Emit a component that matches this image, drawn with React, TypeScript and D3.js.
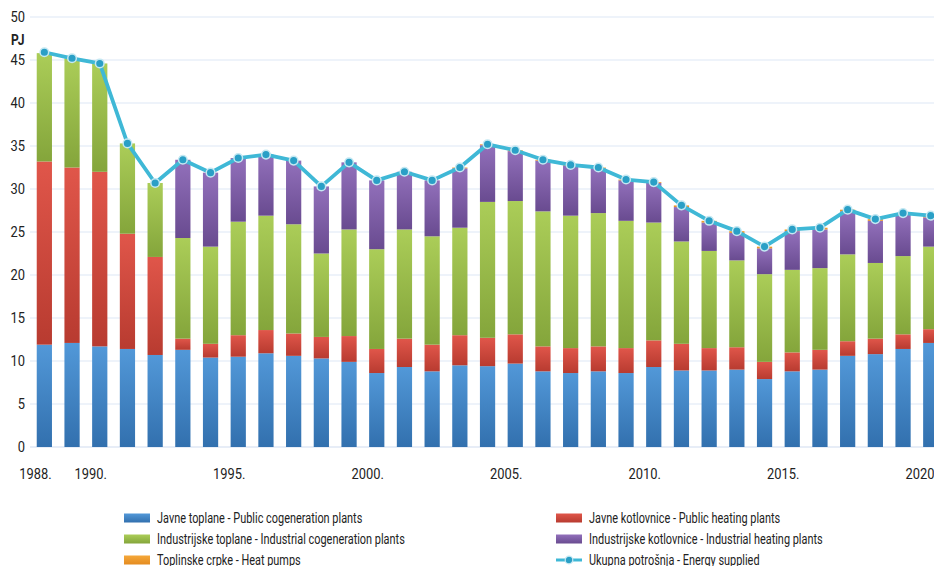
import React from 'react';
import * as d3 from 'd3';

const years = d3.range(1988, 2021);
const tickYears = [1988, 1990, 1995, 2000, 2005, 2010, 2015, 2020];

// PJ per series
const publicCogen = [11.9, 12.1, 11.7, 11.4, 10.7, 11.3, 10.4, 10.5, 10.9, 10.6, 10.3, 9.9, 8.6, 9.3, 8.8, 9.5, 9.4, 9.7, 8.8, 8.6, 8.8, 8.6, 9.3, 8.9, 8.9, 9.0, 7.9, 8.8, 9.0, 10.6, 10.8, 11.4, 12.1];
const publicHeating = [21.3, 20.4, 20.3, 13.4, 11.4, 1.3, 1.6, 2.5, 2.7, 2.6, 2.5, 3.0, 2.8, 3.3, 3.1, 3.5, 3.3, 3.4, 2.9, 2.9, 2.9, 2.9, 3.1, 3.1, 2.6, 2.6, 2.0, 2.2, 2.3, 1.7, 1.8, 1.7, 1.6];
const industrialCogen = [12.6, 12.7, 12.6, 10.5, 8.6, 11.7, 11.3, 13.2, 13.3, 12.7, 9.7, 12.4, 11.6, 12.7, 12.6, 12.5, 15.8, 15.5, 15.7, 15.4, 15.5, 14.8, 13.7, 11.9, 11.3, 10.1, 10.2, 9.6, 9.5, 10.1, 8.8, 9.1, 9.6];
const industrialHeating = [0, 0, 0, 0, 0, 9.1, 8.6, 7.4, 7.1, 7.4, 7.8, 7.8, 8.0, 6.7, 6.5, 6.9, 6.6, 5.8, 5.9, 5.8, 5.2, 4.7, 4.6, 4.0, 3.3, 3.2, 3.0, 4.5, 4.5, 5.0, 4.9, 4.8, 3.4];
const heatPumps = [0, 0, 0, 0, 0, 0, 0, 0, 0, 0, 0, 0, 0, 0, 0, 0.1, 0.1, 0.1, 0.1, 0.1, 0.1, 0.1, 0.1, 0.2, 0.2, 0.2, 0.2, 0.2, 0.2, 0.2, 0.2, 0.2, 0.2];
const energySupplied = [45.9, 45.2, 44.6, 35.3, 30.7, 33.4, 31.9, 33.6, 34.0, 33.3, 30.3, 33.1, 31.0, 32.0, 31.0, 32.5, 35.2, 34.5, 33.4, 32.8, 32.5, 31.1, 30.8, 28.1, 26.3, 25.1, 23.3, 25.3, 25.5, 27.6, 26.5, 27.2, 26.9];

const seriesKeys = ['pubCogen', 'pubHeat', 'indCogen', 'indHeat', 'pumps'];
const seriesValues: Record<string, number[]> = {
  pubCogen: publicCogen,
  pubHeat: publicHeating,
  indCogen: industrialCogen,
  indHeat: industrialHeating,
  pumps: heatPumps,
};
const colors: Record<string, [string, string]> = {
  pubCogen: ['#5298d8', '#3270ae'],
  pubHeat: ['#e0564a', '#b83b30'],
  indCogen: ['#abcd58', '#84a53b'],
  indHeat: ['#9270bb', '#694b90'],
  pumps: ['#f5a83a', '#e48b20'],
};

const legendItems = [
  { key: 'pubCogen', label: 'Javne toplane - Public cogeneration plants', col: 0, row: 0 },
  { key: 'indCogen', label: 'Industrijske toplane - Industrial cogeneration plants', col: 0, row: 1 },
  { key: 'pumps', label: 'Toplinske crpke - Heat pumps', col: 0, row: 2 },
  { key: 'pubHeat', label: 'Javne kotlovnice - Public heating plants', col: 1, row: 0 },
  { key: 'indHeat', label: 'Industrijske kotlovnice - Industrial heating plants', col: 1, row: 1 },
  { key: 'line', label: 'Ukupna potrošnja - Energy supplied', col: 1, row: 2 },
];

const width = 934;
const height = 566;
const font = 'Roboto, "DejaVu Sans", sans-serif';

// reference uses a condensed face: position, then squeeze horizontally
const Narrow = ({ x, y, anchor = 'start', size, children, weight, sx = 0.86 }: any) => (
  <text transform={`translate(${x},${y}) scale(${sx},1)`} textAnchor={anchor} fontSize={size} fontWeight={weight} dy="0.35em" fill="#222">{children}</text>
);

export default function App() {
  const rows = years.map((year, i) => {
    const r: any = { year };
    seriesKeys.forEach(k => (r[k] = seriesValues[k][i]));
    return r;
  });
  const stacked = d3.stack().keys(seriesKeys)(rows);

  const x = d3.scaleBand<number>()
    .domain(years)
    .range([30.5, 30.5 + 33 * 27.7])
    .paddingInner(0.45)
    .paddingOuter(0.225);
  const y = d3.scaleLinear().domain([0, 50]).range([447, 17]);
  const cx = (yr: number) => (x(yr) as number) + x.bandwidth() / 2;

  const line = d3.line<number>()
    .x((_, i) => cx(years[i]))
    .y(d => y(d));

  return (
    <div style={{ position: 'absolute', left: 0, top: 0 }}>
      <svg width={width} height={height} style={{ display: 'block', fontFamily: font }}>
        <defs>
          {seriesKeys.map(k => (
            <linearGradient key={k} id={`g-${k}`} x1="0" y1="0" x2="0" y2="1">
              <stop offset="0%" stopColor={colors[k][0]} />
              <stop offset="100%" stopColor={colors[k][1]} />
            </linearGradient>
          ))}
        </defs>
        <rect width={width} height={height} fill="#fff" />

        {y.ticks(10).map(t => (
          <g key={t}>
            <line x1={30} x2={width} y1={y(t)} y2={y(t)} stroke={t === 0 ? '#cfdcef' : '#dde7f6'} strokeWidth={1.2} />
            <Narrow x={25} y={y(t)} anchor="end" size={15}>{t}</Narrow>
          </g>
        ))}
        <Narrow x={11} y={40} size={14} weight="bold">PJ</Narrow>

        {stacked.map(s => (
          <g key={s.key} fill={`url(#g-${s.key})`}>
            {s.map((d, i) => {
              const h = y(d[0]) - y(d[1]);
              if (h <= 0) return null;
              return <rect key={i} x={x(years[i])} y={y(d[1])} width={x.bandwidth()} height={h} />;
            })}
          </g>
        ))}

        <path d={line(energySupplied) || ''} fill="none" stroke="#3fb8d6" strokeWidth={3.8} strokeLinejoin="round" />
        {energySupplied.map((v, i) => (
          <circle key={i} cx={cx(years[i])} cy={y(v)} r={4.3} fill="#2a9fc6" stroke="#c4e8f2" strokeWidth={1.5} />
        ))}

        {tickYears.map(yr => (
          <Narrow key={yr} x={cx(yr) - 9} y={474} anchor="middle" size={15}>{yr}.</Narrow>
        ))}

        {legendItems.map(it => {
          const lx = it.col === 0 ? 124 : 556;
          const ly = 518 + it.row * 21;
          return (
            <g key={it.key} transform={`translate(${lx},${ly})`}>
              {it.key === 'line' ? (
                <g>
                  <line x1={0} x2={26} y1={0} y2={0} stroke="#3fb8d6" strokeWidth={3} />
                  <circle cx={13} cy={0} r={3.8} fill="#2a9fc6" stroke="#c4e8f2" strokeWidth={1.2} />
                </g>
              ) : (
                <rect x={0} y={-4.5} width={26} height={9} fill={`url(#g-${it.key})`} />
              )}
              <Narrow x={33} y={0} size={14} sx={0.78}>{it.label}</Narrow>
            </g>
          );
        })}
      </svg>
    </div>
  );
}
